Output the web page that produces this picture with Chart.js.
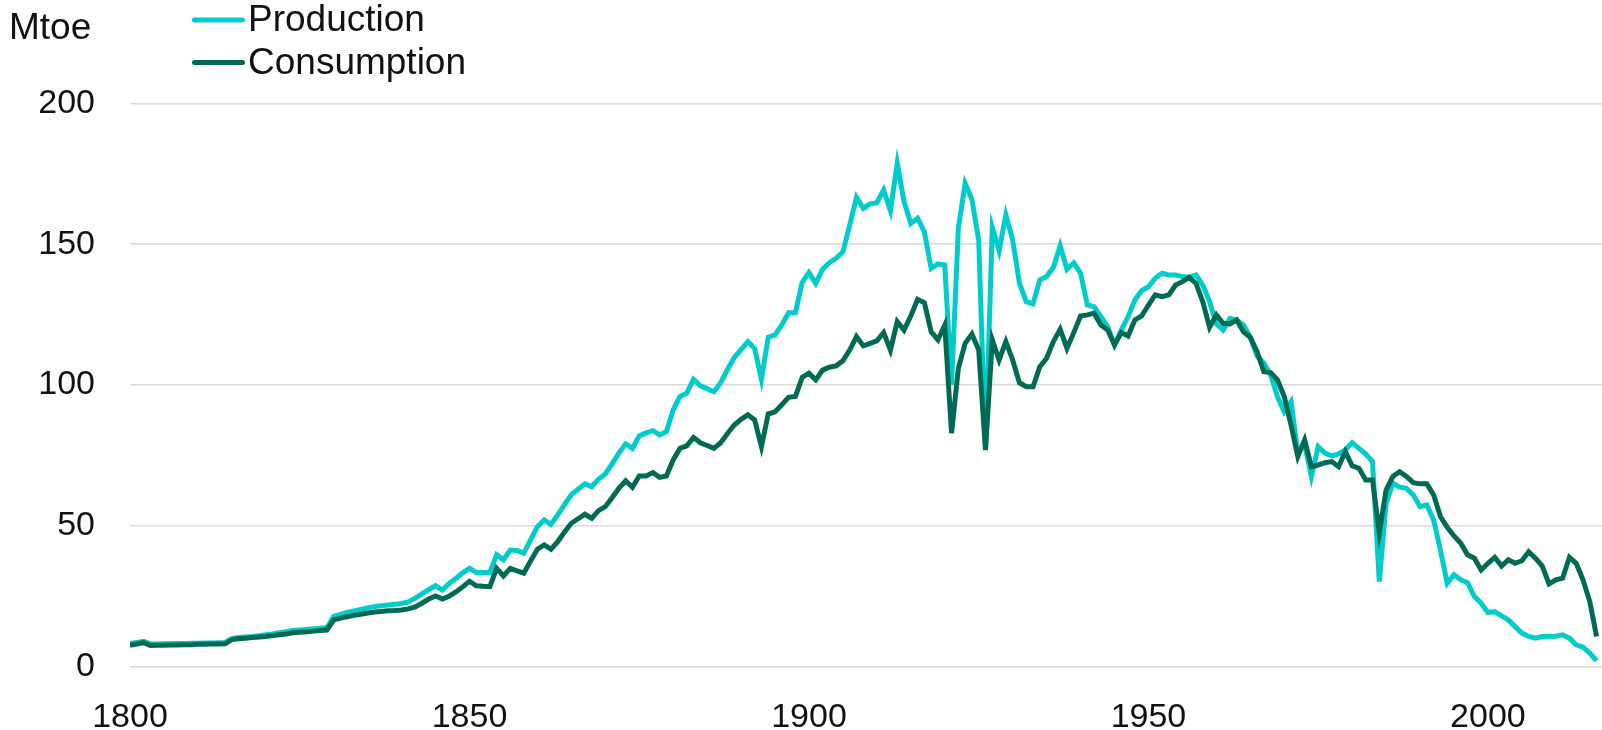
<!DOCTYPE html>
<html>
<head>
<meta charset="utf-8">
<script src="https://cdn.jsdelivr.net/npm/chart.js@4.4.1/dist/chart.umd.min.js"></script>
<style>
  html, body { margin: 0; padding: 0; background: #fff; }
  #wrap { width: 1602px; height: 730px; }
</style>
</head>
<body>
<div id="wrap"><canvas id="coalChart" width="1602" height="730"></canvas></div>
<script>
// annual values, 1800 - 2016, Mtoe
var firstYear = 1800;
var unitLabel = "Mtoe";
var seriesNames = ["Production", "Consumption"];
var xTicks = [1800, 1850, 1900, 1950, 2000];
var yTicks = [0, 50, 100, 150, 200];

var production = [
  8.2, 8.6, 9.0, 8.1, 8.0, 8.1, 8.1, 8.2, 8.2, 8.3,
  8.3, 8.4, 8.4, 8.5, 8.6, 10.0, 10.3, 10.5, 10.7, 11.0,
  11.3, 11.6, 12.0, 12.4, 12.8, 13.0, 13.2, 13.4, 13.6, 13.9,
  17.8, 18.5, 19.2, 19.8, 20.3, 20.8, 21.3, 21.6, 21.9, 22.1,
  22.4, 23.0, 24.3, 25.8, 27.3, 28.7, 27.2, 29.5, 31.3, 33.3,
  34.9, 33.4, 33.4, 33.4, 39.7, 37.9, 41.4, 41.2, 40.3, 45.0,
  49.7, 52.1, 50.5, 53.9, 57.5, 61.0, 63.0, 64.9, 63.9, 66.5,
  68.4, 72.0, 75.8, 79.1, 77.5, 81.9, 83.0, 83.8, 82.3, 83.4,
  91.1, 95.9, 97.1, 102.0, 99.7, 98.7, 97.6, 100.8, 105.5, 109.8,
  112.6, 115.4, 113.0, 102.0, 116.9, 117.8, 121.3, 125.7, 125.7, 136.4,
  139.9, 136.1, 141.1, 143.4, 145.0, 147.3, 156.8, 166.6, 162.7, 164.3,
  164.7, 169.2, 161.9, 178.7, 165.1, 157.4, 159.2, 154.4, 141.4, 143.0,
  142.6, 100.0, 155.6, 171.6, 165.9, 151.5, 77.0, 156.0, 147.7, 160.4,
  151.5, 136.1, 129.6, 128.8, 137.3, 138.5, 141.8, 149.4, 141.1, 143.4,
  139.7, 128.4, 127.8, 124.3, 120.7, 114.2, 119.5, 124.3, 130.2, 133.5,
  134.9, 137.9, 139.7, 139.1, 139.1, 138.5, 138.3, 139.1, 135.5, 129.6,
  121.7, 119.5, 123.7, 123.1, 121.3, 116.9, 110.3, 107.7, 103.6, 95.9,
  90.5, 94.1, 76.0, 79.0, 67.5, 78.1, 75.8, 74.8, 75.5, 77.0,
  79.5, 77.5, 75.5, 72.8, 30.2, 58.0, 65.1, 63.7, 63.3, 61.0,
  56.8, 57.4, 52.1, 41.4, 29.6, 32.6, 30.8, 29.8, 24.9, 22.5,
  19.2, 19.5, 18.0, 16.6, 14.2, 11.9, 10.7, 10.1, 10.7, 10.7,
  10.8, 11.3, 10.1, 7.7, 6.9, 4.8, 2.1
];

var consumption = [
  7.6, 8.0, 8.5, 7.5, 7.6, 7.6, 7.7, 7.7, 7.8, 7.8,
  7.9, 7.9, 8.0, 8.0, 8.1, 9.6, 9.9, 10.1, 10.3, 10.5,
  10.7, 11.0, 11.3, 11.6, 12.0, 12.2, 12.4, 12.6, 12.8, 13.0,
  16.6, 17.2, 17.7, 18.2, 18.6, 19.0, 19.4, 19.6, 19.8, 19.9,
  20.1, 20.5, 21.2, 22.5, 24.0, 25.1, 24.0, 25.0, 26.5, 28.3,
  30.3, 28.7, 28.5, 28.4, 34.9, 32.2, 34.9, 34.0, 33.2, 37.5,
  41.7, 43.2, 41.7, 44.4, 47.8, 50.9, 52.5, 54.1, 52.7, 55.4,
  56.8, 60.0, 63.3, 66.0, 63.7, 67.7, 67.7, 68.9, 67.2, 67.7,
  73.4, 77.5, 78.4, 81.4, 79.5, 78.5, 77.5, 79.5, 82.8, 85.8,
  87.8, 89.4, 87.6, 78.1, 89.7, 90.5, 93.0, 95.6, 95.9, 102.7,
  104.2, 101.8, 105.3, 106.3, 106.8, 108.6, 112.4, 117.2, 113.9, 114.8,
  115.7, 118.6, 112.4, 122.5, 119.5, 124.5, 130.4, 129.2, 118.9, 116.0,
  121.3, 82.9, 105.9, 114.8, 118.1, 112.4, 76.9, 116.0, 108.9, 115.4,
  108.9, 100.8, 99.4, 99.4, 106.5, 109.5, 115.4, 119.8, 113.0, 118.6,
  124.5, 124.9, 125.5, 121.3, 119.5, 114.2, 118.6, 117.4, 123.1, 124.5,
  128.4, 132.0, 131.4, 132.0, 135.5, 136.7, 138.2, 136.1, 129.6, 120.5,
  124.9, 121.9, 121.7, 123.1, 118.9, 116.9, 111.8, 104.7, 104.4, 101.8,
  95.9, 85.8, 74.6, 80.5, 71.0, 71.6, 72.4, 72.8, 71.0, 76.3,
  71.3, 70.4, 66.3, 66.3, 47.4, 62.7, 67.5, 69.2, 67.5, 65.3,
  64.9, 64.9, 61.0, 53.3, 49.5, 46.4, 43.8, 39.7, 38.5, 34.3,
  36.7, 38.8, 35.7, 37.9, 36.7, 37.6, 40.8, 38.5, 35.7, 29.4,
  30.8, 31.4, 38.8, 36.7, 30.8, 23.1, 10.7
];

var colors = ["#00cccc", "#006b52"];
var fontFamily = "'Liberation Sans', Arial, sans-serif";

function toPoints(values) {
  return values.map(function (v, i) {
    return { x: firstYear + i, y: v };
  });
}

// legend + unit label drawn in the top band
var topLegend = {
  id: "topLegend",
  afterDraw: function (chart) {
    var c = chart.ctx;
    c.save();
    c.fillStyle = "#111";
    c.textBaseline = "middle";
    c.textAlign = "left";
    c.font = "37px " + fontFamily;
    c.fillText(unitLabel, 9, 29);
    var rows = [20, 62.5];
    seriesNames.forEach(function (name, i) {
      c.strokeStyle = colors[i];
      c.lineWidth = 5;
      c.lineCap = "round";
      c.beginPath();
      c.moveTo(194.5, rows[i]);
      c.lineTo(242.5, rows[i]);
      c.stroke();
      c.fillText(name, 248, rows[i] + 1);
    });
    c.restore();
  }
};

var ctx = document.getElementById("coalChart").getContext("2d");
var coalChart = new Chart(ctx, {
  type: "line",
  data: {
    datasets: [
      {
        label: seriesNames[0],
        data: toPoints(production),
        borderColor: colors[0],
        backgroundColor: colors[0],
        borderWidth: 5,
        pointRadius: 0,
        tension: 0,
        fill: false,
        order: 1
      },
      {
        label: seriesNames[1],
        data: toPoints(consumption),
        borderColor: colors[1],
        backgroundColor: colors[1],
        borderWidth: 5,
        pointRadius: 0,
        tension: 0,
        fill: false,
        order: 0
      }
    ]
  },
  options: {
    responsive: false,
    animation: false,
    devicePixelRatio: 1,
    layout: { padding: { top: 103.4, right: 0, bottom: 0, left: 0 } },
    plugins: {
      legend: { display: false },
      tooltip: { enabled: false }
    },
    scales: {
      x: {
        type: "linear",
        min: 1800,
        max: 2016.8,
        grid: { display: false },
        border: { display: false },
        ticks: {
          padding: 23,
          color: "#111",
          font: { family: fontFamily, size: 34 },
          maxRotation: 0,
          autoSkip: false,
          callback: function (v) { return String(v); }
        },
        afterBuildTicks: function (axis) {
          axis.ticks = xTicks.map(function (v) { return { value: v }; });
        },
        afterFit: function (scale) { scale.height = 63.4; }
      },
      y: {
        min: 0,
        max: 200,
        grid: { color: "#d9d9d9", lineWidth: 1.6, drawTicks: false },
        border: { display: false },
        ticks: {
          padding: 35,
          color: "#111",
          font: { family: fontFamily, size: 34 },
          callback: function (v) { return String(v); }
        },
        afterBuildTicks: function (axis) {
          axis.ticks = yTicks.map(function (v) { return { value: v }; });
        },
        afterFit: function (scale) { scale.width = 130; }
      }
    }
  },
  plugins: [topLegend]
});
</script>
</body>
</html>
